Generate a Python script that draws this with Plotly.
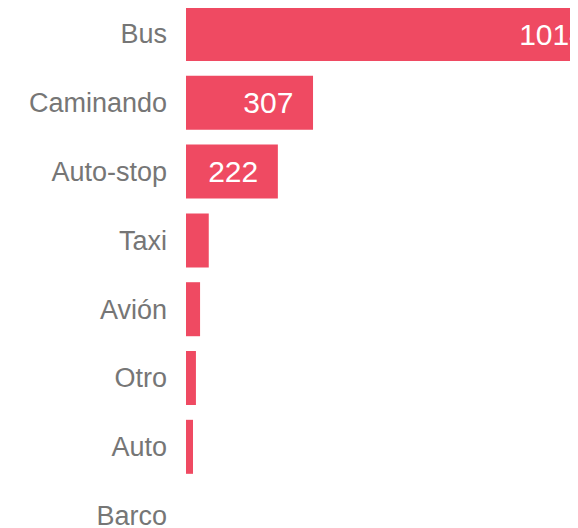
import plotly.graph_objects as go

# transport modes and counts
modes = ['Bus', 'Caminando', 'Auto-stop', 'Taxi', 'Avión', 'Otro', 'Auto', 'Barco']
counts = [1014, 307, 222, 55, 34, 24, 17, 0]
bar_color = '#EF4A62'

fig = go.Figure(go.Bar(
    x=counts,
    y=modes,
    orientation='h',
    marker=dict(color=bar_color, line=dict(width=0)),
    text=counts,
    texttemplate='%{x}\u00a0\u00a0',
    textposition='inside',
    insidetextanchor='end',
    textfont=dict(color='white', size=30, family='Liberation Sans, Arial'),
    cliponaxis=True,
))

# page has an 8px body margin, so the figure sits 8px in from the corner
fig.update_layout(
    width=562,
    height=520,
    margin=dict(l=178, r=0, t=0, b=0, autoexpand=False),
    plot_bgcolor='white',
    paper_bgcolor='white',
    bargap=0.215,
    showlegend=False,
    uniformtext=dict(minsize=28, mode='hide'),
    font=dict(family='Liberation Sans, Arial', color='#757575'),
)
fig.update_xaxes(range=[0, 928], visible=False, fixedrange=True, automargin=False)
fig.update_yaxes(
    categoryorder='array',
    categoryarray=modes,
    range=[7.18, -0.378],
    automargin=False,
    showgrid=False,
    showline=False,
    zeroline=False,
    ticks='',
    ticklabelstandoff=18,
    tickfont=dict(size=27, color='#767676'),
)

fig.write_html("out.html")
